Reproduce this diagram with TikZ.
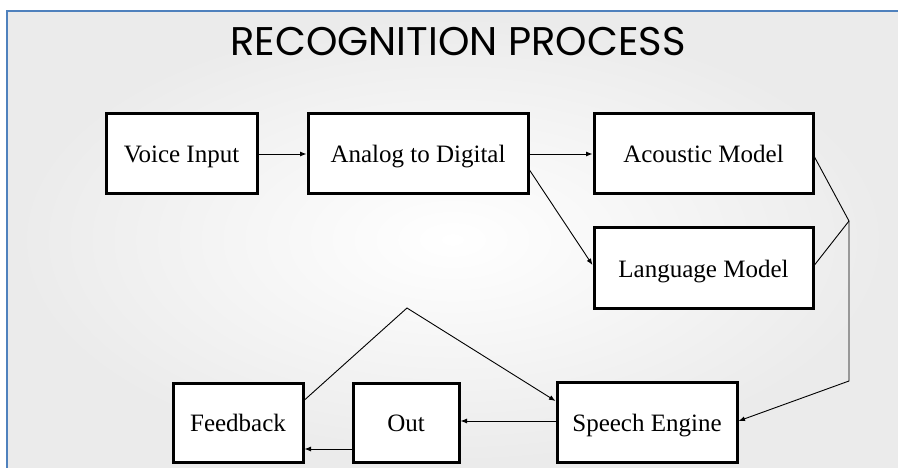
\documentclass[tikz,border=0pt]{standalone}
\usepackage{fontspec}
\setmainfont{Liberation Serif}
\newfontfamily\titlefont{Poppins}
\usetikzlibrary{arrows.meta,calc}
\definecolor{frameblue}{HTML}{4F81BD}
\begin{document}
\begin{tikzpicture}[x=1pt,y=-1pt,
  box/.style={draw=black,line width=3pt,fill=white,rectangle,inner sep=0pt,
    text height=18pt,text depth=0pt,
    font=\fontsize{25}{28}\selectfont},
  conn/.style={draw=black,line width=0.9pt},
  arr/.style={conn,-{Latex[length=6.5pt,width=5pt]}}]
\useasboundingbox (0,0) rectangle (898,468);
\fill[white] (0,0) rectangle (898,468);
\shade[inner color=white,outer color=black!8] (7,11) rectangle (898,468);
\draw[frameblue,line width=2pt] (7,468) -- (7,11) -- (898,11);
\node[anchor=base,font=\titlefont\fontsize{40}{42}\selectfont] (title) at (458,56) {RECOGNITION PROCESS};
\node[box,minimum width=151pt,minimum height=80pt] (vi) at (181.5,154) {Voice Input};
\node[box,minimum width=220pt,minimum height=80pt] (ad) at (418,154) {Analog to Digital};
\node[box,minimum width=219pt,minimum height=80pt] (am) at (703.5,154) {Acoustic Model};
\node[box,minimum width=219pt,minimum height=80pt] (lm) at (703.5,268) {Language Model};
\node[box,minimum width=180pt,minimum height=80pt] (se) at (647,422) {Speech Engine};
\node[box,minimum width=106pt,minimum height=79pt] (out) at (406,422.5) {Out};
\node[box,minimum width=130pt,minimum height=79pt] (fb) at (238,422.5) {Feedback};
\coordinate (J) at (849,221);
\coordinate (K) at (849,381);
\coordinate (P) at (407,308);
\draw[arr] (vi.east) -- (ad.west);
\draw[arr] (ad.east) -- (am.west);
\draw[arr] ([yshift=-16pt]ad.east) -- ([yshift=3pt]lm.west);
\draw[conn] ([yshift=-3pt]am.east) -- (J);
\draw[conn] ([yshift=3pt]lm.east) -- (J);
\draw[arr] (J) -- (K) -- ([yshift=1pt]se.east);
\draw[arr] ([yshift=1pt]se.west) -- ([yshift=1.5pt]out.east);
\draw[arr] ([yshift=-26.5pt]out.west) -- ([yshift=-26.5pt]fb.east);
\draw[arr] ([yshift=22.5pt]fb.east) -- (P) -- ([yshift=21pt]se.west);
\end{tikzpicture}
\end{document}
